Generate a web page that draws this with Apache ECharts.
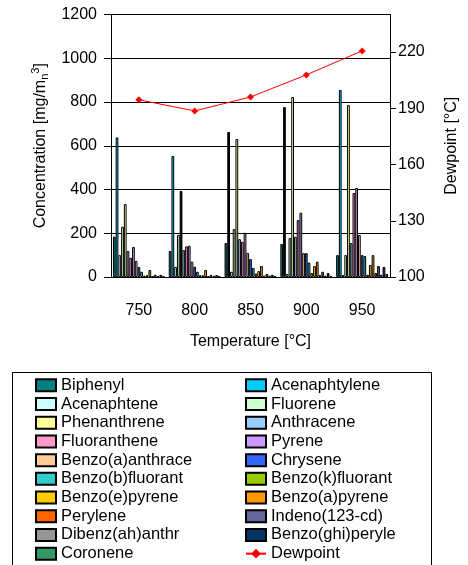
<!DOCTYPE html>
<html>
<head>
<meta charset="utf-8">
<script src="https://cdn.jsdelivr.net/npm/echarts@6/dist/echarts.min.js"></script>
<style>html,body{margin:0;padding:0;background:#fff}#c{width:468px;height:565px}</style>
</head>
<body>
<div id="c"></div>
<script>
const temperatures = ['750', '800', '850', '900', '950'];
const seriesNames = ['Biphenyl','Acenaphtylene','Acenaphtene','Fluorene','Phenanthrene','Anthracene','Fluoranthene','Pyrene','Benzo(a)anthrace','Chrysene','Benzo(b)fluorant','Benzo(k)fluorant','Benzo(e)pyrene','Benzo(a)pyrene','Perylene','Indeno(123-cd)','Dibenz(ah)anthr','Benzo(ghi)peryle','Coronene'];
const seriesColors = ['#008080','#00CCFF','#CCFFFF','#CCFFCC','#FFFF99','#99CCFF','#FF99CC','#CC99FF','#FFCC99','#3366FF','#33CCCC','#99CC00','#FFCC00','#FF9900','#FF6600','#666699','#969696','#003366','#339966'];

const biphenyl         = [185, 119, 155, 151, 100];
const acenaphtylene    = [638, 553, 663, 777, 855];
const acenaphtene      = [100, 46, 24, 14, 9];
const fluorene         = [230, 192, 219, 178, 100];
const phenanthrene     = [334, 393, 631, 823, 786];
const anthracene       = [119, 123, 173, 184, 155];
const fluoranthene     = [88, 140, 161, 260, 384];
const pyrene           = [137, 143, 202, 294, 407];
const benzoAAnthracene = [73, 70, 110, 109, 192];
const chrysene         = [46, 47, 82, 109, 100];
const benzoBFluorant   = [24, 24, 42, 66, 96];
const benzoKFluorant   = [6, 8, 16, 18, 10];
const benzoEPyrene     = [8, 8, 27, 50, 55];
const benzoAPyrene     = [32, 32, 50, 70, 100];
const perylene         = [4, 4, 6, 9, 18];
const indeno           = [10, 9, 14, 24, 50];
const dibenz           = [5, 5, 6, 6, 10];
const benzoGhiPerylene = [10, 9, 10, 18, 46];
const coronene         = [4, 4, 4, 5, 14];
const dewpoint         = [194.5, 188.6, 196, 207.8, 220.6];

// points drawn in black in the original (series index, category index)
const blackPoints = [[1, 2], [1, 3], [4, 1]];

const allValues = [biphenyl, acenaphtylene, acenaphtene, fluorene, phenanthrene, anthracene, fluoranthene, pyrene, benzoAAnthracene, chrysene, benzoBFluorant, benzoKFluorant, benzoEPyrene, benzoAPyrene, perylene, indeno, dibenz, benzoGhiPerylene, coronene];

const FONT = 'Liberation Sans, Arial, sans-serif';

const barSeries = allValues.map((vals, si) => ({
  name: seriesNames[si],
  type: 'bar',
  barGap: '0%',
  barCategoryGap: '7%',
  itemStyle: { color: seriesColors[si], borderColor: '#000', borderWidth: 1 },
  data: vals.map((v, ci) => {
    const black = blackPoints.some(p => p[0] === si && p[1] === ci);
    return black ? { value: v, itemStyle: { color: '#000' } } : v;
  }),
  animation: false
}));

const chart = echarts.init(document.getElementById('c'), null, { renderer: 'canvas' });
chart.setOption({
  animation: false,
  backgroundColor: '#fff',
  textStyle: { fontFamily: FONT },
  grid: { left: 111, right: 78, top: 14.5, bottom: 288 },
  xAxis: {
    type: 'category',
    data: temperatures,
    name: 'Temperature [°C]',
    nameLocation: 'middle',
    nameGap: 57,
    nameTextStyle: { fontSize: 16, color: '#000', fontFamily: FONT },
    axisLine: { lineStyle: { color: '#000' } },
    axisTick: { lineStyle: { color: '#000' }, length: 5 },
    axisLabel: { fontSize: 16, color: '#000', margin: 26, fontFamily: FONT }
  },
  yAxis: [{
    type: 'value',
    min: 0, max: 1200, interval: 200,
    name: 'Concentration [mg/m{sub|n}{sup|3}]',
    nameLocation: 'middle',
    nameGap: 55,
    nameTextStyle: {
      fontSize: 16, color: '#000', fontFamily: FONT,
      rich: {
        sub: { fontSize: 11, color: '#000', fontFamily: FONT, padding: [8, 0, 0, 0] },
        sup: { fontSize: 11, color: '#000', fontFamily: FONT, padding: [0, 0, 10, 0] }
      }
    },
    axisLine: { show: true, lineStyle: { color: '#000' } },
    axisTick: { show: true, length: 7, lineStyle: { color: '#000' } },
    axisLabel: { fontSize: 16, color: '#000', margin: 14, fontFamily: FONT, formatter: v => String(v) },
    splitLine: { show: true, lineStyle: { color: '#000', width: 1 } }
  }, {
    type: 'value',
    min: 100, max: 240, interval: 30,
    position: 'right',
    name: 'Dewpoint [°C]',
    nameLocation: 'middle',
    nameGap: 54,
    nameRotate: 90,
    nameTextStyle: { fontSize: 16, color: '#000', fontFamily: FONT },
    axisLine: { show: true, lineStyle: { color: '#000' } },
    axisTick: { show: true, length: 6, lineStyle: { color: '#000' } },
    axisLabel: { fontSize: 16, color: '#000', margin: 8, fontFamily: FONT, showMaxLabel: false, formatter: v => String(v) },
    splitLine: { show: false }
  }],
  legend: {
    left: 35, top: 376, width: 420,
    padding: 0,
    itemGap: 0,
    itemWidth: 20, itemHeight: 12,
    textStyle: { fontSize: 16.5, color: '#000', fontFamily: FONT, width: 184, lineHeight: 18.7, overflow: 'truncate' },
    data: seriesNames.map(n => ({ name: n, icon: 'rect' })).concat([{ name: 'Dewpoint' }])
  },
  graphic: [{
    type: 'rect',
    shape: { x: 12.5, y: 372.5, width: 419, height: 220 },
    style: { fill: null, stroke: '#000', lineWidth: 1 },
    z: -1, silent: true
  }],
  series: barSeries.concat([{
    name: 'Dewpoint',
    type: 'line',
    yAxisIndex: 1,
    data: dewpoint,
    symbol: 'diamond',
    symbolSize: 7,
    lineStyle: { color: '#FF0000', width: 1 },
    itemStyle: { color: '#FF0000' },
    z: 10,
    animation: false
  }])
});
</script>
</body>
</html>
